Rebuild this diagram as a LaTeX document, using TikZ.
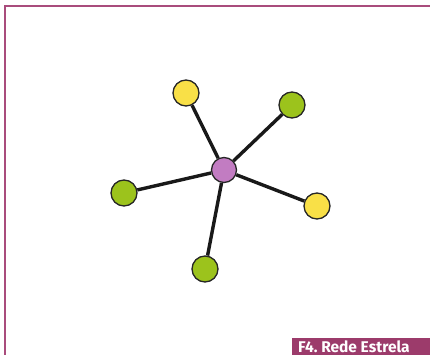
\documentclass[tikz,border=0pt]{standalone}
\usepackage{fontspec}
\setsansfont{Fira Sans}
\usepackage{tikz}
\usetikzlibrary{positioning,calc}

\definecolor{framepink}{HTML}{A94C7C}
\definecolor{labelpink}{HTML}{9C3B6B}
\definecolor{hubpurple}{HTML}{C27CC2}
\definecolor{leafyellow}{HTML}{F9E047}
\definecolor{leafgreen}{HTML}{9CC31C}

\tikzset{
    hub/.style={circle, draw=black!85, line width=1.3pt, fill=hubpurple, minimum size=25pt, inner sep=0pt},
    leaf/.style={circle, draw=black!85, line width=1.3pt, minimum size=26pt, inner sep=0pt},
    link/.style={line width=3.4pt, black!90}
}

\begin{document}
\begin{tikzpicture}[x=1pt, y=-1pt]
    \useasboundingbox (0,0) rectangle (430,355);
    \clip (0,0) rectangle (430,355);

    % Frame
    \coordinate (corner) at (5,6);
    \draw[framepink, line width=2.5pt] (5,355) -- (corner) -- (430,6);

    % Star network
    \begin{scope}
        \node[hub] (c) at (224,170) {};
        \node[leaf, fill=leafyellow] (n1) at (186,93) {};
        \node[leaf, fill=leafgreen] (n2) at (292,105) {};
        \node[leaf, fill=leafgreen] (n3) at (124,193) {};
        \node[leaf, fill=leafyellow] (n4) at (317,206) {};
        \node[leaf, fill=leafgreen] (n5) at (205,269) {};
        \foreach \n in {n1,n2,n3,n4,n5}
            \draw[link] (c) -- (\n);
    \end{scope}

    % Caption
    \fill[labelpink] (292,338) rectangle (430,355);
    \node[text=white, anchor=west, inner sep=0pt,
          font=\sffamily\bfseries\fontsize{15.5pt}{16pt}\selectfont]
        (caption) at (298,346.5) {\frenchspacing F4. Rede Estrela};
\end{tikzpicture}
\end{document}
